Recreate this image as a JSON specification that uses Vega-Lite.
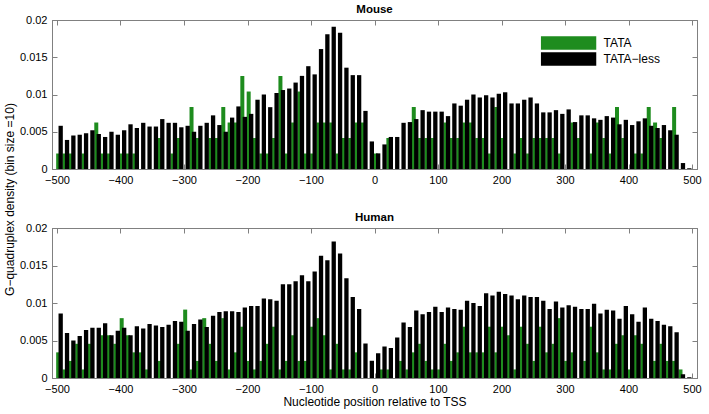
{
"$schema":"https://vega.github.io/schema/vega-lite/v6.json",
"background":"white",
"padding":{"left":2,"top":3,"right":9,"bottom":1},
"bounds":"flush",
"spacing":59,
"config":{
 "font":"Liberation Sans",
 "view":{"stroke":"#808080","strokeWidth":1},
 "axis":{"grid":false,"domainColor":"#808080","tickColor":"#808080","labelColor":"#000000","labelFontSize":11,"tickSize":-5,"labelPadding":10,"titleFontSize":12,"titleFontWeight":"normal","titleColor":"#000000"},
 "title":{"fontSize":11.5,"fontWeight":"bold","color":"#000000","offset":-1}
},
"resolve":{"scale":{"color":"independent"},"legend":{"color":"independent"}},
"datasets":{
"mouse":[
{"pos":-495,"tata":0.00208,"tataless":0.0058},{"pos":-485,"tata":0.00208,"tataless":0.0039},{"pos":-475,"tata":0.00208,"tataless":0.0045},{"pos":-465,"tata":0,"tataless":0.0046},{"pos":-455,"tata":0.00208,"tataless":0.0048},{"pos":-445,"tata":0,"tataless":0.0052},{"pos":-435,"tata":0.00624,"tataless":0.0047},{"pos":-425,"tata":0.00208,"tataless":0.0043},{"pos":-415,"tata":0.00208,"tataless":0.0050},{"pos":-405,"tata":0,"tataless":0.0046},
{"pos":-395,"tata":0.00208,"tataless":0.0052},{"pos":-385,"tata":0.00208,"tataless":0.0060},{"pos":-375,"tata":0.00208,"tataless":0.0055},{"pos":-365,"tata":0,"tataless":0.0062},{"pos":-355,"tata":0,"tataless":0.0057},{"pos":-345,"tata":0,"tataless":0.0057},{"pos":-335,"tata":0.00416,"tataless":0.0067},{"pos":-325,"tata":0,"tataless":0.0062},{"pos":-315,"tata":0.00208,"tataless":0.0062},{"pos":-305,"tata":0.00416,"tataless":0.0056},
{"pos":-295,"tata":0,"tataless":0.0058},{"pos":-285,"tata":0.00832,"tataless":0.0050},{"pos":-275,"tata":0.00416,"tataless":0.0058},{"pos":-265,"tata":0,"tataless":0.0062},{"pos":-255,"tata":0.00416,"tataless":0.0072},{"pos":-245,"tata":0.00416,"tataless":0.0059},{"pos":-235,"tata":0.00832,"tataless":0.0050},{"pos":-225,"tata":0.00624,"tataless":0.0069},{"pos":-215,"tata":0.00624,"tataless":0.0084},{"pos":-205,"tata":0.01248,"tataless":0.0070},
{"pos":-195,"tata":0.0104,"tataless":0.0074},{"pos":-185,"tata":0.00416,"tataless":0.0093},{"pos":-175,"tata":0.00208,"tataless":0.0100},{"pos":-165,"tata":0.00208,"tataless":0.0083},{"pos":-155,"tata":0.00416,"tataless":0.0102},{"pos":-145,"tata":0.01248,"tataless":0.0106},{"pos":-135,"tata":0.00208,"tataless":0.0108},{"pos":-125,"tata":0.00624,"tataless":0.0116},{"pos":-115,"tata":0.0104,"tataless":0.0125},{"pos":-105,"tata":0.00208,"tataless":0.0138},
{"pos":-95,"tata":0.00208,"tataless":0.0127},{"pos":-85,"tata":0.00624,"tataless":0.0161},{"pos":-75,"tata":0.00624,"tataless":0.0181},{"pos":-65,"tata":0.00624,"tataless":0.0191},{"pos":-55,"tata":0.00208,"tataless":0.0183},{"pos":-45,"tata":0.00416,"tataless":0.0136},{"pos":-35,"tata":0.00416,"tataless":0.0126},{"pos":-25,"tata":0.00624,"tataless":0.0126},{"pos":-15,"tata":0.00624,"tataless":0.0078},{"pos":-5,"tata":0,"tataless":0.0037},
{"pos":5,"tata":0.00208,"tataless":0.0021},{"pos":15,"tata":0,"tataless":0.0033},{"pos":25,"tata":0.00416,"tataless":0.0043},{"pos":35,"tata":0,"tataless":0.0043},{"pos":45,"tata":0,"tataless":0.0062},{"pos":55,"tata":0,"tataless":0.0063},{"pos":65,"tata":0.00832,"tataless":0.0067},{"pos":75,"tata":0.00416,"tataless":0.0079},{"pos":85,"tata":0.00416,"tataless":0.0077},{"pos":95,"tata":0.00416,"tataless":0.0077},
{"pos":105,"tata":0,"tataless":0.0077},{"pos":115,"tata":0.00624,"tataless":0.0071},{"pos":125,"tata":0.00416,"tataless":0.0088},{"pos":135,"tata":0.00416,"tataless":0.0085},{"pos":145,"tata":0.00624,"tataless":0.0093},{"pos":155,"tata":0.00624,"tataless":0.0100},{"pos":165,"tata":0.00416,"tataless":0.0096},{"pos":175,"tata":0.00416,"tataless":0.0099},{"pos":185,"tata":0.00208,"tataless":0.0096},{"pos":195,"tata":0.00832,"tataless":0.0101},
{"pos":205,"tata":0.00416,"tataless":0.0103},{"pos":215,"tata":0,"tataless":0.0088},{"pos":225,"tata":0.00208,"tataless":0.0088},{"pos":235,"tata":0.00416,"tataless":0.0093},{"pos":245,"tata":0.00208,"tataless":0.0096},{"pos":255,"tata":0.00416,"tataless":0.0088},{"pos":265,"tata":0.00416,"tataless":0.0076},{"pos":275,"tata":0.00416,"tataless":0.0076},{"pos":285,"tata":0.00416,"tataless":0.0079},{"pos":295,"tata":0.00208,"tataless":0.0074},
{"pos":305,"tata":0,"tataless":0.0080},{"pos":315,"tata":0.00624,"tataless":0.0063},{"pos":325,"tata":0.00416,"tataless":0.0072},{"pos":335,"tata":0,"tataless":0.0072},{"pos":345,"tata":0.00208,"tataless":0.0068},{"pos":355,"tata":0.00624,"tataless":0.0066},{"pos":365,"tata":0.00416,"tataless":0.0071},{"pos":375,"tata":0.00208,"tataless":0.0069},{"pos":385,"tata":0.00832,"tataless":0.0060},{"pos":395,"tata":0.00416,"tataless":0.0066},
{"pos":405,"tata":0,"tataless":0.0059},{"pos":415,"tata":0.00208,"tataless":0.0064},{"pos":425,"tata":0.00208,"tataless":0.0068},{"pos":435,"tata":0.00832,"tataless":0.0058},{"pos":445,"tata":0.00624,"tataless":0.0055},{"pos":455,"tata":0.00416,"tataless":0.0059},{"pos":465,"tata":0,"tataless":0.0052},{"pos":475,"tata":0.00832,"tataless":0.0046},{"pos":485,"tata":0,"tataless":0.0008},{"pos":495,"tata":0,"tataless":0.0001}
],
"human":[
{"pos":-495,"tata":0.00342,"tataless":0.0086},{"pos":-485,"tata":0.00114,"tataless":0.0060},{"pos":-475,"tata":0.00228,"tataless":0.0050},{"pos":-465,"tata":0.00456,"tataless":0.0056},{"pos":-455,"tata":0.00114,"tataless":0.0064},{"pos":-445,"tata":0.00456,"tataless":0.0067},{"pos":-435,"tata":0,"tataless":0.0067},{"pos":-425,"tata":0.0057,"tataless":0.0073},{"pos":-415,"tata":0.0057,"tataless":0.0057},{"pos":-405,"tata":0.00456,"tataless":0.0063},
{"pos":-395,"tata":0.00798,"tataless":0.0067},{"pos":-385,"tata":0.0057,"tataless":0.0057},{"pos":-375,"tata":0.00342,"tataless":0.0069},{"pos":-365,"tata":0.00342,"tataless":0.0066},{"pos":-355,"tata":0.00114,"tataless":0.0072},{"pos":-345,"tata":0,"tataless":0.0070},{"pos":-335,"tata":0.00228,"tataless":0.0068},{"pos":-325,"tata":0,"tataless":0.0071},{"pos":-315,"tata":0,"tataless":0.0076},{"pos":-305,"tata":0.00456,"tataless":0.0075},
{"pos":-295,"tata":0.00912,"tataless":0.0063},{"pos":-285,"tata":0.00114,"tataless":0.0072},{"pos":-275,"tata":0.00228,"tataless":0.0078},{"pos":-265,"tata":0.00798,"tataless":0.0068},{"pos":-255,"tata":0.00456,"tataless":0.0083},{"pos":-245,"tata":0.00228,"tataless":0.0088},{"pos":-235,"tata":0.00798,"tataless":0.0089},{"pos":-225,"tata":0.00114,"tataless":0.0089},{"pos":-215,"tata":0.00342,"tataless":0.0088},{"pos":-205,"tata":0.00684,"tataless":0.0094},
{"pos":-195,"tata":0.00228,"tataless":0.0096},{"pos":-185,"tata":0.00114,"tataless":0.0096},{"pos":-175,"tata":0.00228,"tataless":0.0106},{"pos":-165,"tata":0.00456,"tataless":0.0105},{"pos":-155,"tata":0.00684,"tataless":0.0103},{"pos":-145,"tata":0.00114,"tataless":0.0125},{"pos":-135,"tata":0.00228,"tataless":0.0125},{"pos":-125,"tata":0.0057,"tataless":0.0129},{"pos":-115,"tata":0.00228,"tataless":0.0137},{"pos":-105,"tata":0.00228,"tataless":0.0129},
{"pos":-95,"tata":0.00684,"tataless":0.0142},{"pos":-85,"tata":0.00798,"tataless":0.0163},{"pos":-75,"tata":0.0057,"tataless":0.0157},{"pos":-65,"tata":0.00114,"tataless":0.0182},{"pos":-55,"tata":0.00456,"tataless":0.0166},{"pos":-45,"tata":0.00114,"tataless":0.0133},{"pos":-35,"tata":0.00114,"tataless":0.0108},{"pos":-25,"tata":0.00342,"tataless":0.0092},{"pos":-15,"tata":0,"tataless":0.0046},{"pos":-5,"tata":0,"tataless":0.0023},
{"pos":5,"tata":0,"tataless":0.0033},{"pos":15,"tata":0.00114,"tataless":0.0042},{"pos":25,"tata":0.00114,"tataless":0.0040},{"pos":35,"tata":0,"tataless":0.0054},{"pos":45,"tata":0.00228,"tataless":0.0074},{"pos":55,"tata":0.00114,"tataless":0.0068},{"pos":65,"tata":0.00342,"tataless":0.0090},{"pos":75,"tata":0.00456,"tataless":0.0085},{"pos":85,"tata":0.00228,"tataless":0.0088},{"pos":95,"tata":0.00114,"tataless":0.0095},
{"pos":105,"tata":0.00114,"tataless":0.0088},{"pos":115,"tata":0.00456,"tataless":0.0094},{"pos":125,"tata":0.00228,"tataless":0.0092},{"pos":135,"tata":0.00342,"tataless":0.0091},{"pos":145,"tata":0.00684,"tataless":0.0103},{"pos":155,"tata":0.00342,"tataless":0.0100},{"pos":165,"tata":0.00342,"tataless":0.0096},{"pos":175,"tata":0.00342,"tataless":0.0113},{"pos":185,"tata":0.00684,"tataless":0.0110},{"pos":195,"tata":0.00342,"tataless":0.0115},
{"pos":205,"tata":0.00684,"tataless":0.0112},{"pos":215,"tata":0.0057,"tataless":0.0110},{"pos":225,"tata":0.00114,"tataless":0.0105},{"pos":235,"tata":0.00684,"tataless":0.0110},{"pos":245,"tata":0.00456,"tataless":0.0108},{"pos":255,"tata":0.00228,"tataless":0.0108},{"pos":265,"tata":0.00684,"tataless":0.0103},{"pos":275,"tata":0.00342,"tataless":0.0092},{"pos":285,"tata":0.00456,"tataless":0.0102},{"pos":295,"tata":0.00798,"tataless":0.0094},
{"pos":305,"tata":0.00228,"tataless":0.0097},{"pos":315,"tata":0.00342,"tataless":0.0095},{"pos":325,"tata":0,"tataless":0.0092},{"pos":335,"tata":0.00228,"tataless":0.0092},{"pos":345,"tata":0.00684,"tataless":0.0099},{"pos":355,"tata":0.00342,"tataless":0.0086},{"pos":365,"tata":0.00114,"tataless":0.0091},{"pos":375,"tata":0.00114,"tataless":0.0090},{"pos":385,"tata":0.00456,"tataless":0.0079},{"pos":395,"tata":0.0057,"tataless":0.0096},
{"pos":405,"tata":0.00114,"tataless":0.0085},{"pos":415,"tata":0.0057,"tataless":0.0075},{"pos":425,"tata":0.00456,"tataless":0.0094},{"pos":435,"tata":0,"tataless":0.0079},{"pos":445,"tata":0.00228,"tataless":0.0076},{"pos":455,"tata":0.00456,"tataless":0.0071},{"pos":465,"tata":0.00228,"tataless":0.0069},{"pos":475,"tata":0.00228,"tataless":0.0061},{"pos":485,"tata":0.00114,"tataless":0.0005},{"pos":495,"tata":0,"tataless":0.0001}
]
},
"vconcat":[
{
 "width":645,"height":149,
 "title":{"text":"Mouse"},
 "data":{"name":"mouse"},
 "layer":[
  {"mark":{"type":"bar","orient":"vertical","width":4,"xOffset":-2},
   "encoding":{
    "x":{"field":"pos","type":"quantitative","scale":{"domain":[-500,500],"nice":false,"zero":false},"axis":{"orient":"bottom","values":[-500,-400,-300,-200,-100,0,100,200,300,400,500],"format":"d","title":null}},
    "y":{"field":"tata","type":"quantitative","scale":{"domain":[0,0.02],"nice":false},"axis":{"orient":"left","values":[0,0.005,0.01,0.015,0.02],"format":"~g","title":"G\u2212quadruplex density (bin size =10)","titleX":-43,"titleY":179,"titleBaseline":"middle","titleAlign":"center"}},
    "color":{"datum":"TATA","type":"nominal","scale":{"domain":["TATA","TATA\u2212less"],"range":["#1e8c1e","#000000"]},
      "legend":{"orient":"none","legendX":489,"legendY":16,"title":null,"symbolType":"M-4.1,-1H4.1V1H-4.1Z","symbolSize":182,"symbolStrokeWidth":0,"symbolOffset":20.6,"labelOffset":28,"labelFontSize":12,"labelColor":"#000000","padding":0,"rowPadding":2,"symbolOpacity":1}}
   }},
  {"mark":{"type":"bar","orient":"vertical","width":4.3,"xOffset":0.5},
   "encoding":{
    "x":{"field":"pos","type":"quantitative","scale":{"domain":[-500,500],"nice":false,"zero":false},"axis":{"orient":"top","values":[-500,-400,-300,-200,-100,0,100,200,300,400,500],"labels":false,"title":null}},
    "y":{"field":"tataless","type":"quantitative","scale":{"domain":[0,0.02],"nice":false},"axis":{"orient":"right","values":[0,0.005,0.01,0.015,0.02],"labels":false,"title":null}},
    "color":{"datum":"TATA\u2212less","type":"nominal"}
   }}
 ],
 "resolve":{"axis":{"x":"independent","y":"independent"}}
},
{
 "width":645,"height":150,
 "title":{"text":"Human"},
 "data":{"name":"human"},
 "layer":[
  {"mark":{"type":"bar","orient":"vertical","width":4,"xOffset":-2},
   "encoding":{
    "x":{"field":"pos","type":"quantitative","scale":{"domain":[-500,500],"nice":false,"zero":false},"axis":{"orient":"bottom","values":[-500,-400,-300,-200,-100,0,100,200,300,400,500],"format":"d","title":"Nucleotide position relative to TSS","titlePadding":2}},
    "y":{"field":"tata","type":"quantitative","scale":{"domain":[0,0.02],"nice":false},"axis":{"orient":"left","values":[0,0.005,0.01,0.015,0.02],"format":"~g","title":null}},
    "color":{"datum":"TATA","type":"nominal","scale":{"domain":["TATA","TATA\u2212less"],"range":["#1e8c1e","#000000"]},"legend":null}
   }},
  {"mark":{"type":"bar","orient":"vertical","width":4.3,"xOffset":0.5},
   "encoding":{
    "x":{"field":"pos","type":"quantitative","scale":{"domain":[-500,500],"nice":false,"zero":false},"axis":{"orient":"top","values":[-500,-400,-300,-200,-100,0,100,200,300,400,500],"labels":false,"title":null}},
    "y":{"field":"tataless","type":"quantitative","scale":{"domain":[0,0.02],"nice":false},"axis":{"orient":"right","values":[0,0.005,0.01,0.015,0.02],"labels":false,"title":null}},
    "color":{"datum":"TATA\u2212less","type":"nominal","legend":null}
   }}
 ],
 "resolve":{"axis":{"x":"independent","y":"independent"}}
}
]
}
